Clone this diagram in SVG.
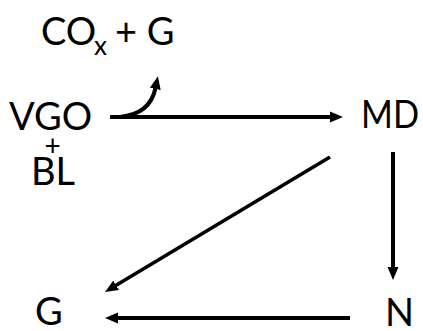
<svg xmlns="http://www.w3.org/2000/svg" width="423" height="331" viewBox="0 0 423 331">
<style>
text{font-family:Lato,"Open Sans","Liberation Sans",sans-serif;fill:#000;font-size:38px}
.c{fill:none;stroke:#000;stroke-width:4}
</style>
<defs>
<marker id="ah" markerUnits="userSpaceOnUse" viewBox="0 -7 14 14" refX="1" refY="0" markerWidth="14" markerHeight="14" orient="auto">
<path d="M0,-5.5 L13,0 L0,5.5 z" fill="#000"/>
</marker>
</defs>
<rect width="423" height="331" fill="#fff"/>
<g id="connectors">
<path class="c" d="M110,117 L331,117" marker-end="url(#ah)"/>
<path class="c" d="M120,117 C140,115 152,105 155.5,88" marker-end="url(#ah)"/>
<path class="c" d="M393,152 L393,268" marker-end="url(#ah)"/>
<path class="c" style="stroke-width:3.6" d="M330,157 L115.3,285.8" marker-end="url(#ah)"/>
<path class="c" d="M350,318 L117,318" marker-end="url(#ah)"/>
</g>
<g id="cox_g">
<text x="41" y="45">CO</text>
<text x="94" y="55" style="font-size:26px">x</text>
<text x="115" y="45">+ G</text>
</g>
<g id="vgo_bl">
<text x="9" y="130">VGO</text>
<text x="52.5" y="156" text-anchor="middle" style="font-size:28px">+</text>
<text x="31" y="185">BL</text>
</g>
<g id="md"><text x="361" y="128" textLength="58" lengthAdjust="spacingAndGlyphs">MD</text></g>
<g id="n"><text x="385" y="326">N</text></g>
<g id="g"><text x="35" y="325">G</text></g>
</svg>
